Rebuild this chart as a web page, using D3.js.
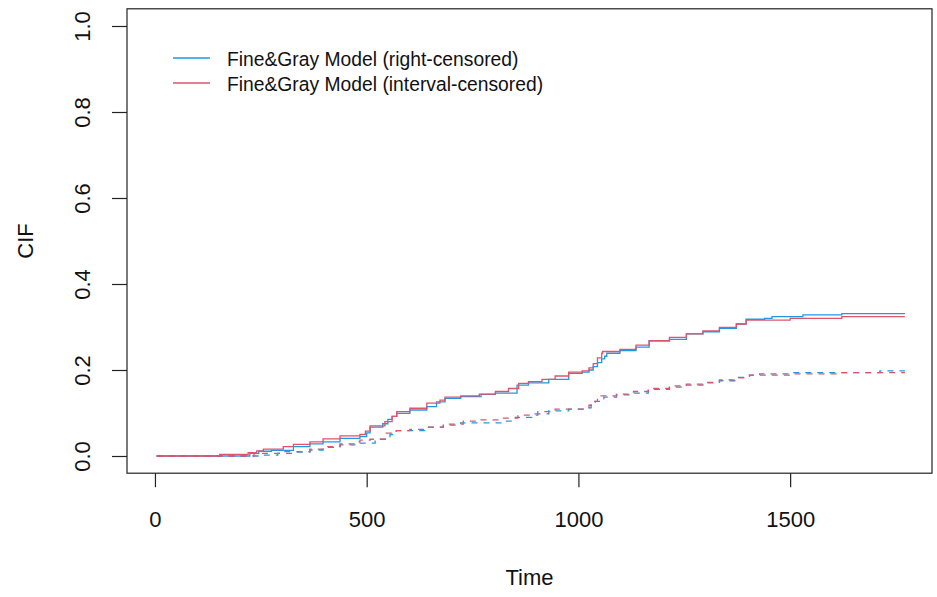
<!DOCTYPE html>
<html>
<head>
<meta charset="utf-8">
<script src="https://cdn.jsdelivr.net/npm/d3@7"></script>
<style>
  body { margin: 0; background: #fff; }
  svg { font-family: "Liberation Sans", Arial, sans-serif; }
</style>
</head>
<body>
<svg id="chart" width="937" height="597"></svg>
<script>
// step curves, cause 1 (solid) and cause 2 (dashed)
var rcTime1 = [4,224,245,275,327,366,397,437,484,500,508,538,550,560,571,602,642,665,685,722,770,804,855,882,930,977,1009,1025,1035,1045,1055,1062,1067,1098,1136,1167,1215,1255,1294,1333,1373,1396,1440,1457,1530,1622,1771];
var rcCif1  = [0,0.006,0.011,0.013,0.022,0.028,0.033,0.041,0.045,0.054,0.067,0.075,0.085,0.092,0.099,0.107,0.115,0.126,0.134,0.138,0.1435,0.146,0.165,0.170,0.178,0.192,0.195,0.200,0.208,0.217,0.226,0.232,0.239,0.245,0.253,0.268,0.271,0.284,0.289,0.297,0.307,0.318,0.320,0.324,0.328,0.331,0.331];

var icTime1 = [4,153,220,240,256,303,327,366,397,437,484,497,508,543,560,571,602,642,673,685,722,766,804,835,859,882,914,945,977,1009,1025,1035,1045,1055,1057,1098,1136,1167,1215,1255,1294,1333,1373,1396,1500,1622,1771];
var icCif1  = [0,0.004,0.008,0.012,0.016,0.022,0.027,0.033,0.040,0.047,0.050,0.058,0.070,0.080,0.092,0.103,0.111,0.123,0.130,0.137,0.140,0.144,0.150,0.157,0.169,0.173,0.178,0.186,0.195,0.198,0.205,0.215,0.228,0.239,0.243,0.248,0.258,0.268,0.276,0.284,0.291,0.299,0.307,0.316,0.320,0.324,0.324];

var rcTime2 = [4,250,290,327,366,397,437,484,520,555,570,642,681,722,817,851,890,930,977,1020,1030,1040,1055,1060,1090,1130,1165,1215,1255,1294,1333,1373,1404,1428,1507,1712,1771];
var rcCif2  = [0,0.002,0.006,0.009,0.014,0.020,0.026,0.030,0.039,0.050,0.059,0.067,0.072,0.077,0.081,0.090,0.098,0.105,0.109,0.112,0.118,0.127,0.133,0.137,0.142,0.146,0.155,0.160,0.165,0.170,0.175,0.183,0.188,0.191,0.194,0.198,0.198];

var icTime2 = [4,234,303,366,397,437,472,484,508,546,570,602,642,681,728,770,817,857,904,945,1020,1025,1035,1045,1051,1090,1130,1165,1215,1255,1294,1333,1373,1404,1507,1617,1771];
var icCif2  = [0,0.006,0.010,0.016,0.022,0.028,0.033,0.037,0.039,0.053,0.059,0.062,0.067,0.074,0.081,0.084,0.088,0.095,0.103,0.109,0.112,0.118,0.127,0.136,0.140,0.144,0.150,0.157,0.163,0.167,0.171,0.177,0.182,0.188,0.191,0.194,0.194];

var xTicks = [0,500,1000,1500];
var yTicks = [0,0.2,0.4,0.6,0.8,1.0];
var legendLabels = ["Fine&Gray Model (right-censored)","Fine&Gray Model (interval-censored)"];
var blue = "#2297E6", red = "#DF536B";

var svg = d3.select("#chart");
var box = {left:127, right:932, top:8.8, bot:473.2};

var xScale = d3.scaleLinear().domain([-66,1835]).range([box.left,box.right]);
var yScale = d3.scaleLinear().domain([-0.04,1.04]).range([box.bot,box.top]);

function toPts(t,v){
  return t.map(function(d,i){ return [d,v[i]]; });
}
var line = d3.line()
  .x(function(d){ return xScale(d[0]); })
  .y(function(d){ return yScale(d[1]); })
  .curve(d3.curveStepAfter);

var series = [
  {pts:toPts(rcTime2,rcCif2), col:blue, dash:"6,6"},
  {pts:toPts(rcTime1,rcCif1), col:blue, dash:null},
  {pts:toPts(icTime2,icCif2), col:red, dash:"6,6"},
  {pts:toPts(icTime1,icCif1), col:red, dash:null}
];
svg.selectAll("path.cif")
   .data(series)
   .enter()
   .append("path")
   .attr("class","cif")
   .attr("d",function(d){ return line(d.pts); })
   .attr("fill","none")
   .attr("stroke",function(d){ return d.col; })
   .attr("stroke-width",1.3)
   .attr("stroke-dasharray",function(d){ return d.dash; });

// box
svg.append("rect")
   .attr("x",box.left).attr("y",box.top)
   .attr("width",box.right-box.left).attr("height",box.bot-box.top)
   .attr("fill","none").attr("stroke","#222").attr("stroke-width",1.2);

// axes
var xAxis = d3.axisBottom(xScale).tickValues(xTicks).tickSize(14).tickSizeOuter(0).tickFormat(d3.format("d"));
var gx = svg.append("g")
   .attr("transform","translate(0,"+box.bot+")")
   .call(xAxis);
gx.select(".domain").remove();
gx.selectAll("line").attr("stroke","#222").attr("stroke-width",1.2);
gx.selectAll("text")
  .attr("y",54).attr("dy",0)
  .attr("font-size",22).attr("fill","#111")
  .attr("font-family","Liberation Sans, Arial, sans-serif");

var yAxis = d3.axisLeft(yScale).tickValues(yTicks).tickSize(15).tickFormat(d3.format(".1f"));
var gy = svg.append("g")
   .attr("transform","translate("+box.left+",0)")
   .call(yAxis);
gy.select(".domain").remove();
gy.selectAll("line").attr("stroke","#222").attr("stroke-width",1.2);
gy.selectAll("text")
  .attr("transform","rotate(-90)")
  .attr("x",0).attr("y",-37).attr("dy",0)
  .attr("text-anchor","middle")
  .attr("font-size",22).attr("fill","#111")
  .attr("font-family","Liberation Sans, Arial, sans-serif");

// axis titles
svg.append("text")
   .attr("x",(box.left+box.right)/2).attr("y",585)
   .attr("text-anchor","middle").attr("font-size",22).attr("fill","#111")
   .text("Time");
svg.append("text")
   .attr("transform","translate(33,"+((box.top+box.bot)/2)+") rotate(-90)")
   .attr("text-anchor","middle").attr("font-size",22).attr("fill","#111")
   .text("CIF");

// legend
var leg = svg.selectAll("g.leg")
   .data(legendLabels)
   .enter()
   .append("g")
   .attr("class","leg")
   .attr("transform",function(d,i){ return "translate(0,"+(58+25*i)+")"; });
leg.append("line")
   .attr("x1",173).attr("x2",210)
   .attr("stroke",function(d,i){ return i==0 ? blue : red; })
   .attr("stroke-width",1.3);
leg.append("text")
   .attr("x",227).attr("y",8)
   .attr("font-size",19.3).attr("fill","#111")
   .text(function(d){ return d; });
</script>
</body>
</html>
